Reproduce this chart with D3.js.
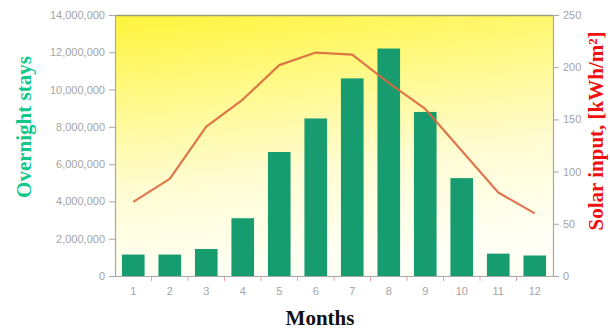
<!DOCTYPE html>
<html>
<head>
<meta charset="utf-8">
<script src="https://cdn.jsdelivr.net/npm/d3@7"></script>
<style>
  html, body { margin: 0; padding: 0; background: #fff; }
  svg { display: block; }
</style>
</head>
<body>
<svg id="chart" width="610" height="329"></svg>
<script>
// Monthly overnight stays (bars) and monthly solar input (line)
const months = ["1", "2", "3", "4", "5", "6", "7", "8", "9", "10", "11", "12"];
const overnightStays = [1150000, 1150000, 1450000, 3100000, 6650000, 8450000, 10600000, 12200000, 8800000, 5250000, 1200000, 1100000];
const solarInput = [71, 93, 143, 169, 202, 214, 212, 185, 160, 120, 80, 60];
const staysTicks = [0, 2000000, 4000000, 6000000, 8000000, 10000000, 12000000, 14000000];
const solarTicks = [0, 50, 100, 150, 200, 250];

const svg = d3.select("#chart");
const margin = { left: 115, right: 57, top: 15, bottom: 53 };
const W = 610, H = 329;
const x0 = margin.left, x1 = W - margin.right, y0 = H - margin.bottom, y1 = margin.top;

const x = d3.scaleBand().domain(months).range([x0, x1]).paddingInner(0.38).paddingOuter(0.19);
const yL = d3.scaleLinear().domain([0, 14000000]).range([y0, y1]);
const yR = d3.scaleLinear().domain([0, 250]).range([y0, y1]);

// plot background gradient
const defs = svg.append("defs");
const grad = defs.append("linearGradient").attr("id", "bg").attr("x1", 0).attr("y1", 0).attr("x2", 0.2).attr("y2", 1);
grad.append("stop").attr("offset", "0%").attr("stop-color", "#fff43a");
grad.append("stop").attr("offset", "30%").attr("stop-color", "#fff984");
grad.append("stop").attr("offset", "65%").attr("stop-color", "#fffcd2");
grad.append("stop").attr("offset", "100%").attr("stop-color", "#fffff6");

svg.append("rect")
  .attr("x", x0).attr("y", y1)
  .attr("width", x1 - x0).attr("height", y0 - y1)
  .attr("fill", "url(#bg)");

// top frame line
svg.append("line")
  .attr("x1", x0).attr("x2", x1).attr("y1", y1 + 0.5).attr("y2", y1 + 0.5)
  .attr("stroke", "#9a9a7a").attr("stroke-width", 1.5);

// bars
svg.append("g").selectAll("rect")
  .data(months.map((m, i) => ({ m, v: overnightStays[i] })))
  .join("rect")
  .attr("x", d => x(d.m))
  .attr("width", x.bandwidth())
  .attr("y", d => yL(d.v))
  .attr("height", d => yL(0) - yL(d.v))
  .attr("fill", "#169c6e");

// solar input line
const line = d3.line()
  .x((d, i) => x(months[i]) + x.bandwidth() / 2)
  .y(d => yR(d));
svg.append("path")
  .datum(solarInput)
  .attr("d", line)
  .attr("fill", "none")
  .attr("stroke", "#d9683f")
  .attr("stroke-width", 2.2)
  .attr("stroke-linejoin", "round")
  .attr("opacity", 0.9);

// axes
const tickFont = "Liberation Sans, Arial, sans-serif";
function styleAxis(g) {
  g.selectAll(".domain").attr("stroke", "#a8a8a8").attr("stroke-width", 1.2);
  g.selectAll(".tick line").attr("stroke", "#a8a8a8");
  g.selectAll(".tick text").attr("fill", "#a4a4a4").attr("font-size", 11).attr("font-family", tickFont);
}

const leftAxis = svg.append("g")
  .attr("transform", `translate(${x0},0)`)
  .call(d3.axisLeft(yL).tickValues(staysTicks).tickSize(6).tickPadding(4)
    .tickFormat(d => d3.format(",")(d)));
styleAxis(leftAxis);

const rightAxis = svg.append("g")
  .attr("transform", `translate(${x1},0)`)
  .call(d3.axisRight(yR).tickValues(solarTicks).tickSize(6).tickPadding(4));
styleAxis(rightAxis);

const bottomAxis = svg.append("g")
  .attr("transform", `translate(0,${y0})`)
  .call(d3.axisBottom(x).tickSize(0).tickPadding(11));
styleAxis(bottomAxis);

// small tick marks between months
bottomAxis.selectAll(".sep")
  .data(months.slice(1))
  .join("line")
  .attr("class", "sep")
  .attr("x1", d => x(d) - x.step() * x.paddingInner() / 2)
  .attr("x2", d => x(d) - x.step() * x.paddingInner() / 2)
  .attr("y1", 1).attr("y2", 5)
  .attr("stroke", "#e8a0a0").attr("stroke-width", 1);

// axis titles
const titleFont = "Liberation Serif, Times New Roman, serif";
svg.append("text")
  .attr("transform", `translate(31,127) rotate(-90)`)
  .attr("text-anchor", "middle")
  .attr("font-family", titleFont).attr("font-weight", "bold").attr("font-size", 21)
  .attr("fill", "#11c88a")
  .text("Overnight stays");

svg.append("text")
  .attr("transform", `translate(603,131) rotate(-90)`)
  .attr("text-anchor", "middle")
  .attr("font-family", titleFont).attr("font-weight", "bold").attr("font-size", 21)
  .attr("fill", "#f01010")
  .text("Solar input, [kWh/m²]");

svg.append("text")
  .attr("x", 320).attr("y", 325)
  .attr("text-anchor", "middle")
  .attr("font-family", titleFont).attr("font-weight", "bold").attr("font-size", 21)
  .attr("fill", "#111")
  .text("Months");
</script>
</body>
</html>
